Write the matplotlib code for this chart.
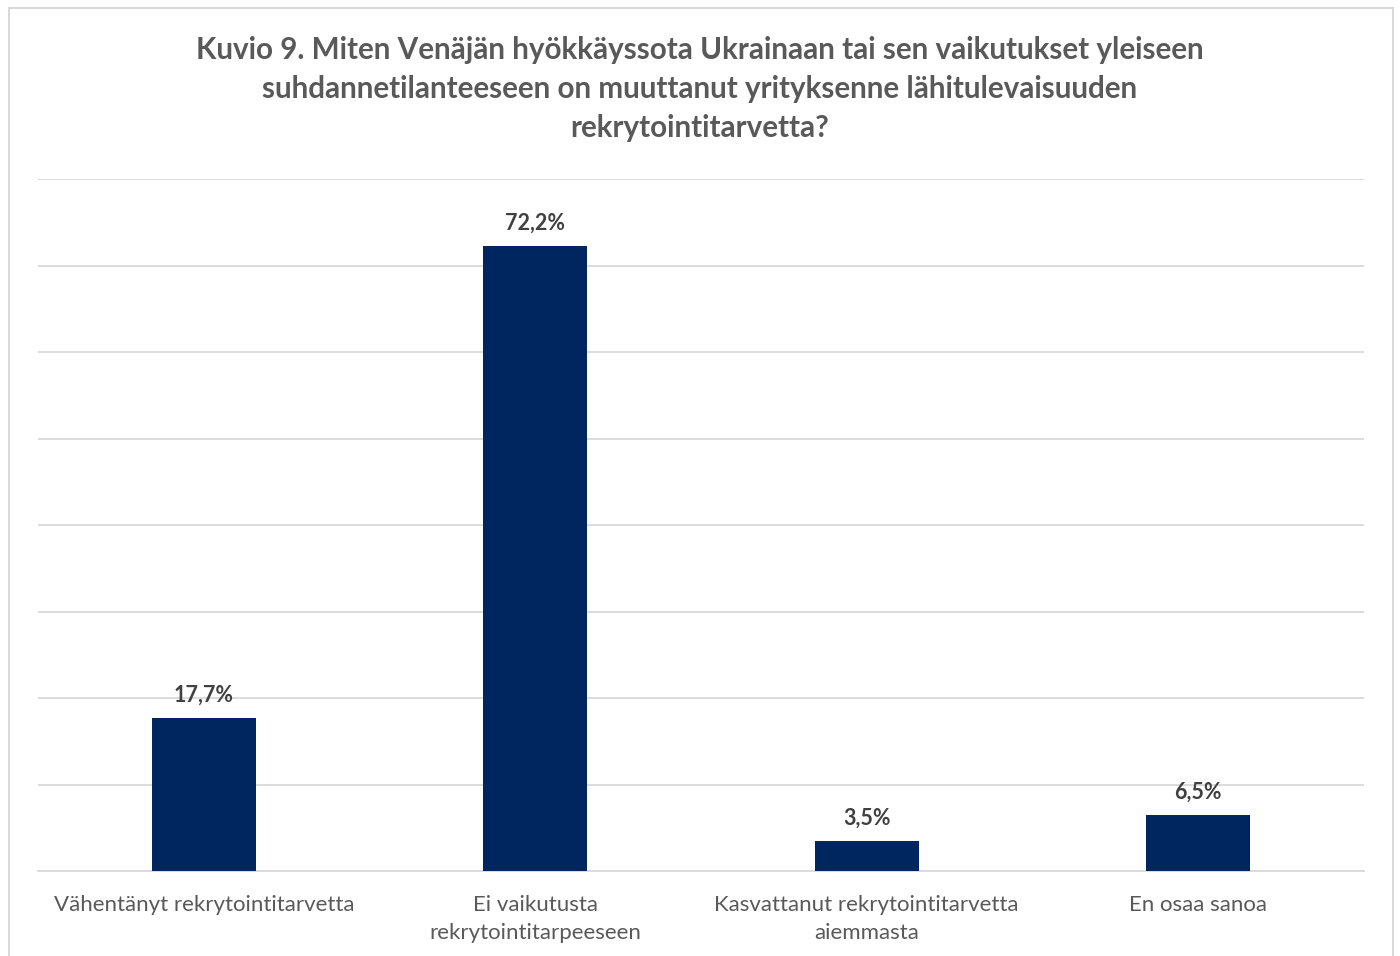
import matplotlib
matplotlib.use('Agg')
import matplotlib.pyplot as plt
from matplotlib.patches import Rectangle

# data
categories = ['Vähentänyt rekrytointitarvetta',
              'Ei vaikutusta\nrekrytointitarpeeseen',
              'Kasvattanut rekrytointitarvetta\naiemmasta',
              'En osaa sanoa']
values = [17.7, 72.2, 3.5, 6.5]
title = ('Kuvio 9. Miten Venäjän hyökkäyssota Ukrainaan tai sen vaikutukset yleiseen\n'
         'suhdannetilanteeseen on muuttanut yrityksenne lähitulevaisuuden\n'
         'rekrytointitarvetta?')

plt.rcParams['font.family'] = ['Lato', 'DejaVu Sans']

fig = plt.figure(figsize=(14, 9.56), dpi=100)
# outer chart frame
fig.patches.append(Rectangle((9 / 1400, -0.01), (1393 - 9) / 1400, 1 - 8 / 956 + 0.01,
                             transform=fig.transFigure, fill=False,
                             edgecolor='#d9d9d9', linewidth=1.5))

ax = fig.add_axes([38 / 1400, 1 - 871 / 956, (1364 - 38) / 1400, (871 - 179) / 956])
x = range(len(categories))
bars = ax.bar(x, values, width=0.314, color='#002660', zorder=3)
ax.set_ylim(0, 80)
ax.set_xlim(-0.5, len(categories) - 0.5)
ax.set_yticks(range(0, 81, 10))
ax.yaxis.grid(True, color='#d9d9d9', linewidth=1.3, zorder=0)
ax.tick_params(axis='y', left=False, labelleft=False)
ax.tick_params(axis='x', length=0, pad=17, labelsize=16, labelcolor='#595959')
ax.set_xticks(list(x))
ax.set_xticklabels(categories, linespacing=1.55)
for s in ['top', 'right', 'left']:
    ax.spines[s].set_visible(False)
ax.spines['bottom'].set_color('#d9d9d9')
ax.spines['bottom'].set_linewidth(1.3)

for b, v in zip(bars, values):
    ax.annotate(f'{v:.1f}%'.replace('.', ','), (b.get_x() + b.get_width() / 2, v),
                xytext=(0, 9), textcoords='offset points', ha='center', va='bottom',
                fontsize=15.5, fontweight='bold', color='#404040')

fig.text(0.5, 1 - 89 / 956, title, ha='center', va='center', fontsize=21.3,
         fontweight='bold', color='#595959', linespacing=1.47)

fig.savefig('out.png', dpi=100, facecolor='white')
